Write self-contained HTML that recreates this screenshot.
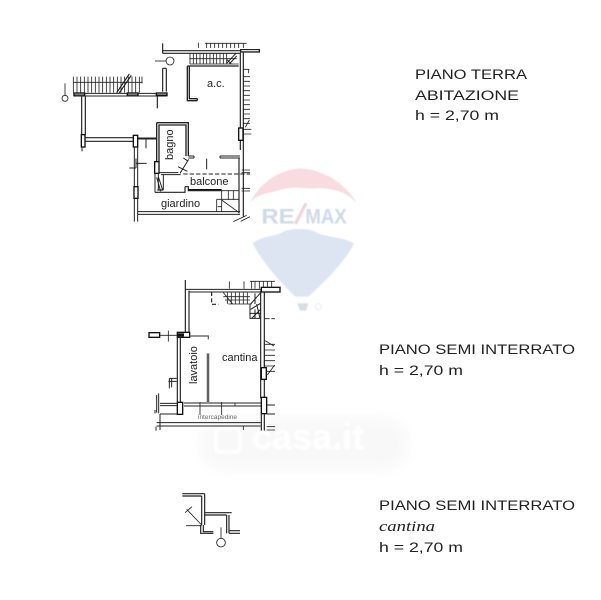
<!DOCTYPE html>
<html><head><meta charset="utf-8"><style>
html,body{margin:0;padding:0;background:#fff}
svg{display:block}
.t{font-family:"Liberation Sans",sans-serif;font-size:13.5px;fill:#222;font-weight:normal}
.i{font-family:"Liberation Serif",serif;font-style:italic;font-size:15px;fill:#222}
.l{font-family:"Liberation Sans",sans-serif;fill:#222;font-size:11px}
</style></head><body>
<svg width="601" height="600" viewBox="0 0 601 600" xmlns="http://www.w3.org/2000/svg">
<defs>
<filter id="b1" x="-10%" y="-10%" width="120%" height="120%"><feGaussianBlur stdDeviation="1"/></filter>
<filter id="b2" x="-20%" y="-40%" width="140%" height="180%"><feGaussianBlur stdDeviation="7"/></filter>
<filter id="b3" x="-5%" y="-5%" width="110%" height="110%"><feGaussianBlur stdDeviation="1.2"/></filter>
</defs>
<rect width="601" height="600" fill="#fff"/>

<!-- casa.it watermark -->
<rect x="200" y="418" width="208" height="52" rx="24" fill="#f8f8f8" filter="url(#b2)"/>
<text x="252" y="449" font-family="Liberation Sans, sans-serif" font-size="36" font-weight="bold" fill="#ffffff" filter="url(#b1)">casa.it</text>
<rect x="216" y="428" width="24" height="24" rx="5" fill="none" stroke="#ffffff" stroke-width="4" filter="url(#b1)"/>

<!-- RE/MAX balloon -->
<g transform="translate(240,160) scale(.33333)" filter="url(#b3)">
<path d="M30 128 C60 70 110 32 180 25 C250 28 315 70 350 128 C320 100 300 92 270 88 C235 80 215 88 190 84 C150 78 120 90 90 98 C65 102 45 112 30 128Z" fill="#f8dcdf"/>
<path d="M38 250 C70 225 105 232 130 215 C155 205 195 203 225 215 C250 232 300 228 342 250 C320 300 250 370 205 410 L165 410 C120 365 65 305 38 250Z" fill="#dde5f2"/>
<path d="M172 430 L205 430 L198 452 L180 452Z" fill="#d8dce3"/>
<circle cx="235" cy="440" r="9" fill="none" stroke="#e8eaee" stroke-width="3"/>
<text x="64" y="190" font-family="Liberation Sans, sans-serif" font-size="64" font-weight="bold" fill="#ced9ea" textLength="100" lengthAdjust="spacingAndGlyphs">RE</text>
<text x="196" y="190" font-family="Liberation Sans, sans-serif" font-size="64" font-weight="bold" fill="#ced9ea" textLength="124" lengthAdjust="spacingAndGlyphs">MAX</text>
<path d="M166 192 L198 130" stroke="#f3d0d4" stroke-width="9"/>
</g>

<!-- TOP PLAN -->
<g transform="translate(50,30) scale(.33333)" fill="none" stroke="#222" stroke-width="3.5">
<!-- walls -->
<path d="M338 40V70M338 62H570M338 70H570" stroke-width="3.5"/>
<rect x="570" y="57" width="60" height="11" fill="#222" stroke="none"/>
<rect x="574" y="60" width="52" height="4" fill="#ddd" stroke="none"/>
<path d="M571 68V360M580 68V560" stroke-width="3.500"/>
<path d="M567 385V550" stroke-width="3.500"/>
<path d="M338 115V185M349 115V185M338 115H349"/>
<!-- a.c. wall -->
<path d="M412 108H566M412 108V212H442M418 108V206H442M442 206V212" stroke-width="4"/>
<!-- top stairs -->
<path d="M420 70V102M430 70V102M440 70V102M450 70V102M460 70V102M470 70V102M480 70V102M490 70V102M500 70V102M510 70V102M520 70V102M530 70V102M418 86H560M420 102H566" stroke-width="2.500"/>
<path d="M530 100L558 70M538 102L560 78M530 88L544 102" stroke-width="3"/>
<path d="M445 38V54M470 38V54M482 40V54M494 40V54M506 40V54M518 40V54M530 40V54M542 40V54M554 40V54M566 40V54M580 40V54M465 40H590" stroke-width="2.500"/>
<!-- right stairs -->
<path d="M580 118H598M580 140H600M580 154H600M580 168H600M580 182H600M580 196H600M580 210H600M580 224H600M580 238H600M580 252H600M580 266H600M580 280H600M580 298H604M580 312H604M596 118V130M598 270L586 292" stroke-width="2.500"/>
<rect x="566" y="294" width="13" height="37" fill="#fff" stroke="#111" stroke-width="4"/>
<!-- circle 1 -->
<circle cx="360" cy="93" r="12" stroke-width="2.500"/><path d="M315 93H348" stroke-width="2.500"/>
<!-- balcony top -->
<path d="M70 140V188M81 140V188M92 140V188M103 140V188M114 140V188M125 140V188M136 140V188M147 140V188M158 140V188M169 140V188M180 140V188M191 140V188M202 140V188M213 140V188M224 140V188M235 140V188M246 140V188M257 140V188M268 140V188M70 157H278M276 140V160" stroke-width="2.500"/>
<path d="M200 188L238 132M207 190L244 136" stroke-width="3.500"/>
<path d="M70 190H350M70 198H350" stroke-width="3"/>
<rect x="70" y="187" width="36" height="12" fill="#111" stroke="none"/><rect x="74" y="190" width="28" height="6" fill="#777" stroke="none"/>
<rect x="230" y="187" width="36" height="12" fill="#111" stroke="none"/><rect x="234" y="190" width="28" height="6" fill="#777" stroke="none"/>
<rect x="317" y="187" width="36" height="12" fill="#111" stroke="none"/><rect x="321" y="190" width="28" height="5" fill="#777" stroke="none"/>
<circle cx="45" cy="205" r="9" stroke-width="2.500"/><path d="M45 160V196" stroke-width="2.500"/>
<!-- left verticals -->
<path d="M95 198V315M106 198V315"/>
<rect x="94" y="314" width="11" height="37" fill="#fff" stroke="#111" stroke-width="4"/>
<path d="M96 351V364" stroke-width="3"/>
<path d="M105 323H250M105 334H250"/>
<rect x="250" y="316" width="13" height="35" fill="#fff" stroke="#111" stroke-width="4"/>
<path d="M263 324H320M263 327H320" stroke-width="3"/><path d="M288 324V355M304 324V328" stroke-width="3"/>
<path d="M253 351V470M263 351V470M238 414H258M258 385V414M258 400H290M253 505V575M263 505V575" stroke-width="3"/>
<rect x="252" y="470" width="12" height="35" fill="#fff" stroke="#111" stroke-width="4"/>
<path d="M322 198V235" stroke-width="3.500"/>
<!-- bagno -->
<path d="M320 278H415V378M325 285H408V378M320 278V395M327 285V395" stroke-width="4"/>
<path d="M415 378H432M415 384H432M510 378H570M510 384H570M510 378V384M432 378V384" stroke-width="3"/>
<path d="M470 386V418" stroke-width="3"/>
<path d="M390 430L416 388M384 410L412 424M400 384L412 392" stroke-width="3"/>
<rect x="314" y="395" width="13" height="35" fill="#fff" stroke="#111" stroke-width="4"/>
<path d="M315 430V487M325 430V480M325 440L338 480M320 442L332 484M340 433V480" stroke-width="3"/>
<path d="M327 428H385M333 434H392" stroke-width="3"/>
<path d="M400 432H600" stroke-dasharray="13 6" stroke-width="3"/>
<path d="M575 420H600M575 428H600M575 475H600M575 483H600" stroke-width="2.500"/>
<path d="M315 487H405V470M322 480H340M405 470H415V482H515" stroke-width="3.500"/>
<path d="M415 479H515" stroke="#111" stroke-width="4"/>
<!-- small stairs -->
<path d="M515 482V545M515 508H566M500 508V545M535 482V510M550 482V510M515 482H568M500 508H515M503 530H515M515 510L566 547" stroke-width="2.500"/>
<path d="M263 545H570M263 553H570" stroke-width="3"/>
<path d="M550 575L590 556M572 574L600 560" stroke-width="2.500"/>
</g>
<text class="l" x="207" y="87">a.c.</text>
<text class="l" x="190" y="185">balcone</text>
<text class="l" x="161" y="207">giardino</text>
<text class="l" transform="translate(173,160) rotate(-90)">bagno</text>

<!-- MIDDLE PLAN -->
<g transform="translate(140,270) scale(.33333)" fill="none" stroke="#222" stroke-width="3.5">
<path d="M136 30V187M147 62V187"/>
<path d="M136 58H365M147 66H365" stroke-width="3"/>
<rect x="364" y="52" width="56" height="14" fill="#fff" stroke="#111" stroke-width="4"/>
<path d="M268 34V56M312 34V56M330 34H405M335 35V56M345 35V56M358 35V56M370 35V52M382 35V52M395 35V52" stroke-width="2.500"/>
<path d="M215 66V103H236" stroke-dasharray="12 7" stroke-width="3.500"/>
<!-- stairs -->
<path d="M250 68L278 102M262 68V102M274 68V102M286 68V102M298 68V102M310 68V102M322 68V102M250 80H330M255 90H330M265 102H335" stroke-width="2.500"/>
<path d="M330 102V145H362M362 68L332 102M345 70V102M362 100L332 118M362 118L335 145M350 102L360 145M328 130H362M345 145V118" stroke-width="3"/>
<path d="M362 62V385M373 66V385"/>
<path d="M373 146H405" stroke-dasharray="16 5" stroke-width="2.500"/>
<path d="M373 215V320M373 223H405M373 240H405M373 256H405M373 272H405M373 288H405M373 304H405M375 212L402 228M404 285L382 315" stroke-width="2.500"/>
<rect x="364" y="293" width="15" height="35" fill="#fff" stroke="#111" stroke-width="4"/>
<rect x="364" y="382" width="16" height="49" fill="#fff" stroke="#111" stroke-width="4"/>
<path d="M380 405H405M380 432H405" stroke-width="3"/>
<path d="M364 431V482M373 431V482"/>
<path d="M380 470H405M380 480H405" stroke-width="2.500"/>
<!-- left -->
<rect x="27" y="188" width="32" height="14" fill="#fff" stroke="#111" stroke-width="4"/>
<path d="M85 182V215M59 196H112" stroke-width="2.500"/>
<rect x="112" y="187" width="37" height="15" fill="#fff" stroke="#111" stroke-width="4"/>
<rect x="114" y="190" width="18" height="10" fill="#111" stroke="none"/>
<path d="M149 198H205V208M205 198V208" stroke="#555" stroke-width="3.500"/>
<path d="M112 202V396M121 202V396"/>
<path d="M88 325H110M88 325V355M95 325V352M85 334H110" stroke-width="3"/>
<path d="M56 370V430M50 375V428M45 420V430M60 400H110M60 407H110" stroke-width="3"/>
<rect x="112" y="397" width="16" height="36" fill="#fff" stroke="#111" stroke-width="4"/>
<path d="M132 399H364M132 408H364" stroke-width="3"/>
<path d="M202 250V396M206 250V396" stroke="#555" stroke-width="3.500"/>
<path d="M180 396V435M245 396V435M285 400V408" stroke-width="2.500"/>
<path d="M60 432H112M50 458H362M50 468H362M60 432V480M48 470V482" stroke-width="3"/>
<path d="M310 468V480" stroke-width="2.500"/>
</g>
<text class="l" x="222" y="361">cantina</text>
<text class="l" transform="translate(197,384) rotate(-90)">lavatoio</text>
<text class="l" x="198" y="419" style="font-size:6.5px;fill:#666">intercapedine</text>

<!-- BOTTOM PLAN -->
<g transform="translate(160,480) scale(.33333)" fill="none" stroke="#222" stroke-width="3.5">
<path d="M67 41H134M67 48H125M125 48V135M134 41V135"/>
<path d="M135 98H215M135 105H200M200 105V160M207 105V160"/>
<path d="M122 135V160H160M130 135V155H160M207 152H240M207 160H240"/>
<path d="M78 137H125M80 88L125 135M75 98L96 80" stroke-width="2.500"/>
<path d="M183 142V175" stroke-width="2.500"/>
<circle cx="183" cy="188" r="13" stroke-width="2.500"/>
</g>

<!-- Captions -->
<text class="t" x="415" y="79" textLength="112" lengthAdjust="spacingAndGlyphs">PIANO TERRA</text>
<text class="t" x="415" y="100" textLength="104" lengthAdjust="spacingAndGlyphs">ABITAZIONE</text>
<text class="t" x="415" y="120" textLength="84" lengthAdjust="spacingAndGlyphs">h = 2,70 m</text>
<text class="t" x="379" y="354" textLength="196" lengthAdjust="spacingAndGlyphs">PIANO SEMI INTERRATO</text>
<text class="t" x="379" y="375" textLength="84" lengthAdjust="spacingAndGlyphs">h = 2,70 m</text>
<text class="t" x="379" y="510" textLength="196" lengthAdjust="spacingAndGlyphs">PIANO SEMI INTERRATO</text>
<text class="i" x="379" y="531" textLength="56" lengthAdjust="spacingAndGlyphs">cantina</text>
<text class="t" x="379" y="552" textLength="84" lengthAdjust="spacingAndGlyphs">h = 2,70 m</text>
</svg>
</body></html>
